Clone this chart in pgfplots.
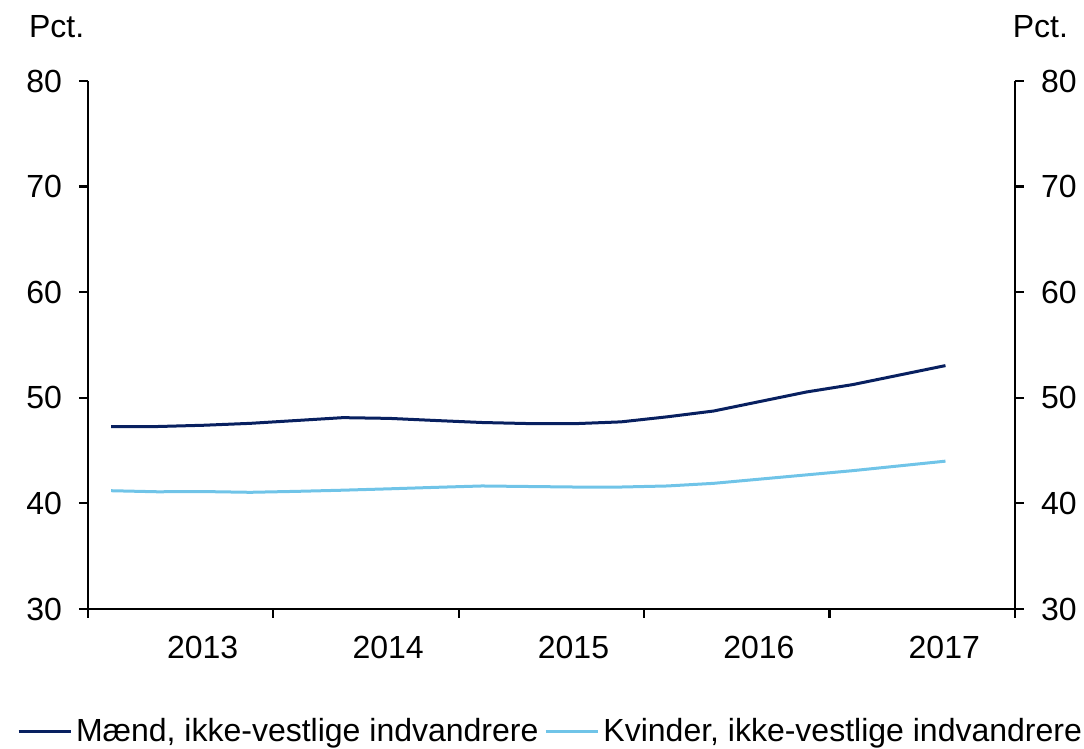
\documentclass[border=0pt]{standalone}
\usepackage{fontspec}
\setmainfont{Liberation Sans}
\usepackage{pgfplots}
\pgfplotsset{compat=1.18}

\definecolor{navy}{RGB}{8,32,96}
\definecolor{lightblue}{RGB}{112,196,232}

% quarters 2013Q1 .. 2017Q3 at x = 0..18
\pgfplotstableread{
x   maend  kvinder
0   47.26  41.20
1   47.28  41.10
2   47.40  41.12
3   47.58  41.05
4   47.85  41.14
5   48.12  41.25
6   48.05  41.38
7   47.85  41.52
8   47.66  41.65
9   47.56  41.60
10  47.55  41.55
11  47.72  41.55
12  48.20  41.65
13  48.75  41.90
14  49.65  42.30
15  50.55  42.70
16  51.25  43.10
17  52.15  43.55
18  53.05  44.00
}\datatable

\begin{document}
\begin{tikzpicture}
\useasboundingbox (-44pt,-70pt) rectangle (498pt,304.5pt);
\pgfplotsset{
  base/.style={
    at={(0,0)}, anchor=south west,
    scale only axis, width=463.5pt, height=264pt,
    xmin=-0.5, xmax=19.5, ymin=30, ymax=80,
    ytick={30,40,...,80},
    tick align=outside, major tick length=4.5pt,
    axis line style={-, line width=1.1pt},
    every tick/.style={black, line width=1.1pt},
    tick label style={font=\fontsize{16}{19}\selectfont},
    /pgf/number format/assume math mode=true,
  }
}
\begin{axis}[base,
  axis x line*=bottom, axis y line*=left,
  xtick={-0.5,3.5,...,19.5},
  xticklabels={2013,2014,2015,2016,2017},
  x tick label as interval=true,
  xticklabel style={yshift=-5.5pt, xshift=11pt},
  yticklabel style={xshift=-5pt},
  legend columns=2,
  legend style={at={(axis description cs:0.5,-0.232)}, anchor=center,
    draw=none, font=\fontsize{16}{19}\selectfont, inner sep=0pt,
    /tikz/every odd column/.style={column sep=0pt},
    /tikz/every even column/.style={column sep=1pt}},
  legend image code/.code={\draw[#1] (0pt,0pt) -- (26pt,0pt);},
  clip=false,
]
\addplot[navy, line width=1.5pt] table[x=x, y=maend] {\datatable};
\addlegendentry{Mænd, ikke-vestlige indvandrere}
\addplot[lightblue, line width=1.5pt] table[x=x, y=kvinder] {\datatable};
\addlegendentry{Kvinder, ikke-vestlige indvandrere}
\node[anchor=west, font=\fontsize{16}{19}\selectfont] at (rel axis cs:0,1) [xshift=-33pt, yshift=27pt] {Pct.};
\node[anchor=east, font=\fontsize{16}{19}\selectfont] at (rel axis cs:1,1) [xshift=30pt, yshift=27pt] {Pct.};
\end{axis}
\begin{axis}[base,
  axis x line=none, axis y line*=right,
  yticklabel style={xshift=5pt},
]
\addplot[draw=none] coordinates {(0,30)};
\end{axis}
\end{tikzpicture}
\end{document}
